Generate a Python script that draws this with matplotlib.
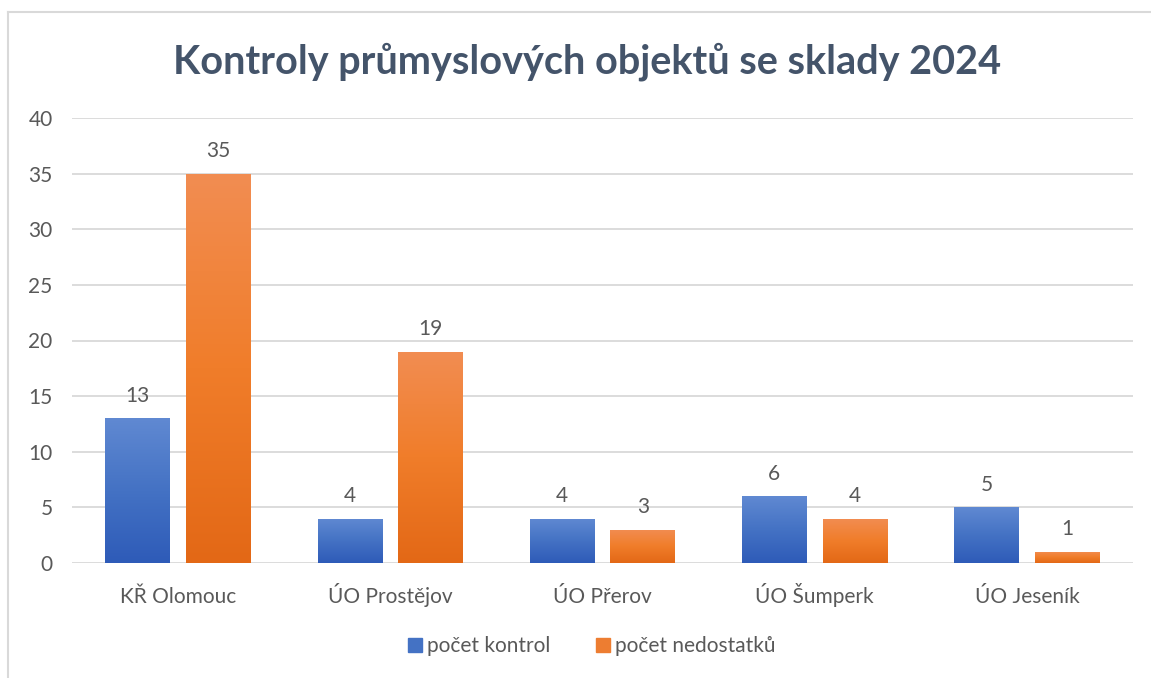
import matplotlib
matplotlib.use("Agg")
import matplotlib.pyplot as plt
import numpy as np
from matplotlib.colors import LinearSegmentedColormap
from matplotlib.patches import Rectangle
from matplotlib.lines import Line2D

categories = ["KŘ Olomouc", "ÚO Prostějov", "ÚO Přerov", "ÚO Šumperk", "ÚO Jeseník"]
kontroly = [13, 4, 4, 6, 5]
nedostatky = [35, 19, 3, 4, 1]
series_names = ["počet kontrol", "počet nedostatků"]
title = "Kontroly průmyslových objektů se sklady 2024"

plt.rcParams['font.family'] = ['Lato', 'DejaVu Sans']
txt = "#595959"
fs = 15

fig = plt.figure(figsize=(11.51, 6.78), dpi=100)
ax = fig.add_axes([72/1151, 1-563/678, (1133-72)/1151, (563-118)/678])

x = np.arange(len(categories))
w = 0.305
off = 0.19

blue_cmap = LinearSegmentedColormap.from_list("b", ["#2E5BB8", "#4472C4", "#6089D2"])
orange_cmap = LinearSegmentedColormap.from_list("o", ["#E36816", "#F07D2A", "#F28D52"])

grad = np.linspace(0, 1, 256).reshape(-1, 1)

def gbars(xs, vals, cmap):
    bars = ax.bar(xs, vals, w, color="none", edgecolor="none", zorder=3)
    for b in bars:
        x0, y0 = b.get_x(), b.get_y()
        bw, bh = b.get_width(), b.get_height()
        im = ax.imshow(grad, cmap=cmap, aspect="auto", origin="lower",
                       extent=[x0, x0 + bw, y0, y0 + bh], zorder=3)
        clip = Rectangle((x0, y0), bw, bh, transform=ax.transData)
        im.set_clip_path(clip)
    for xi, v in zip(xs, vals):
        ax.text(xi, v + 1.5, str(v), ha="center", va="baseline", fontsize=fs, color=txt)
    return bars

gbars(x - off, kontroly, blue_cmap)
gbars(x + off, nedostatky, orange_cmap)

ax.set_xlim(-0.5, len(categories) - 0.5)
ax.set_ylim(0, 40)
ax.set_yticks(range(0, 41, 5))
ax.set_xticks(x)
ax.set_xticklabels(categories)
ax.tick_params(axis="both", length=0, labelsize=fs, colors=txt)
ax.tick_params(axis="x", pad=29)
ax.tick_params(axis="y", pad=14)
for lab in ax.get_xticklabels():
    lab.set_verticalalignment("baseline")
ax.grid(axis="y", color="#D9D9D9", linewidth=1.3, zorder=0)
ax.set_axisbelow(True)
for s in ax.spines.values():
    s.set_visible(False)

fig.text(587/1151, 1 - 62/678, title, ha="center", va="center", fontsize=28.5,
         fontweight="bold", color="#44546A")

handles = [Line2D([], [], marker="s", linestyle="none", markersize=9.5,
                  markerfacecolor=c, markeredgecolor=c)
           for c in ["#4472C4", "#ED7D31"]]
fig.legend(handles, series_names, loc="center", bbox_to_anchor=(590/1151, 1 - 646/678),
           ncol=2, frameon=False, fontsize=fs, labelcolor=txt, handletextpad=0.1,
           columnspacing=2.0, handlelength=1.0)

# outer chart border
fig.add_artist(Line2D([8/1151, 8/1151], [0, 1 - 12/678], transform=fig.transFigure,
                      color="#D9D9D9", linewidth=1.5))
fig.add_artist(Line2D([8/1151, 1], [1 - 12/678, 1 - 12/678], transform=fig.transFigure,
                      color="#D9D9D9", linewidth=1.5))

fig.savefig("out.png", dpi=100)
